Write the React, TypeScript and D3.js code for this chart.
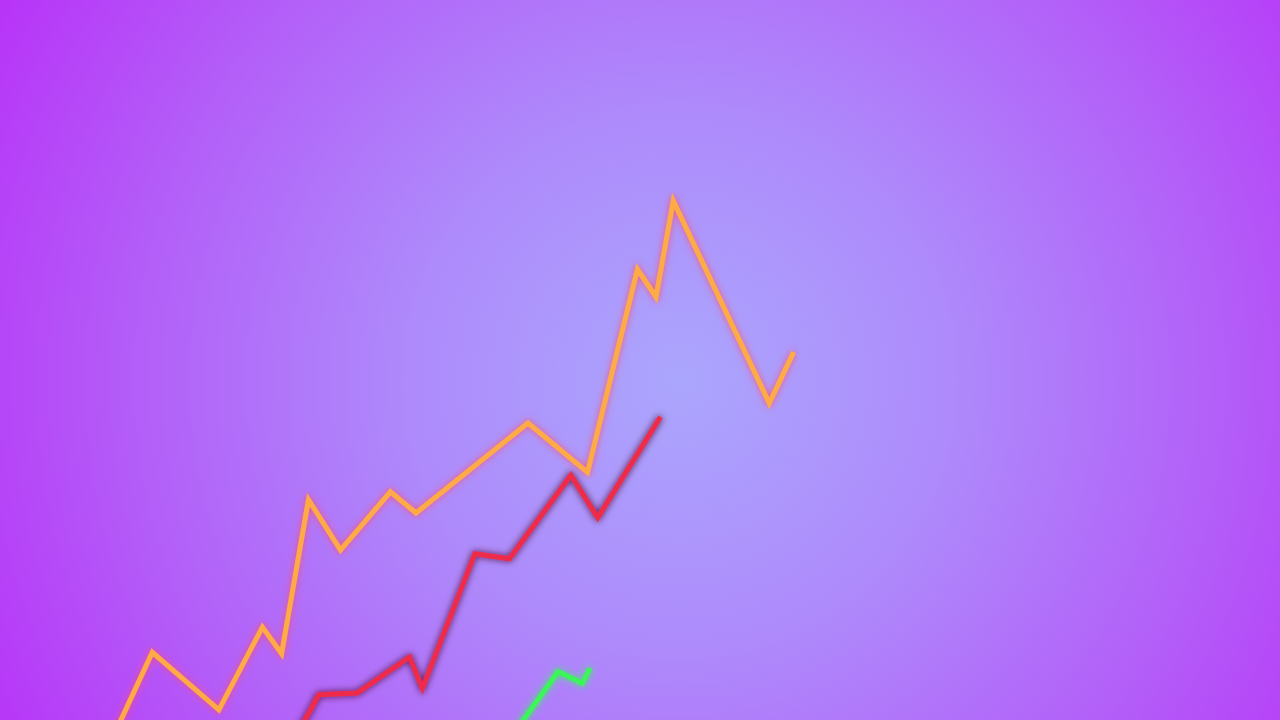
import React from "react";
import * as d3 from "d3";

const WIDTH = 1280;
const HEIGHT = 720;

// Series values (x: time position 0-100, y: value 0-100)
const orangeX = [8.05, 9.45, 11.9, 17.1, 20.5, 22.0, 24.1, 26.6, 30.5, 32.5, 41.25, 45.9, 49.8, 51.25, 52.6, 60.1, 62.0];
const orangeY = [-5.6, 0, 9.4, 1.4, 12.9, 9.2, 30.6, 23.6, 31.7, 28.75, 41.25, 34.4, 62.6, 58.75, 72.1, 44.0, 51.1];

const redX = [22.1, 24.9, 27.9, 32.0, 33.0, 37.1, 39.8, 44.6, 46.7, 51.6];
const redY = [-5.6, 3.5, 3.75, 8.75, 4.4, 23.1, 22.4, 34.0, 28.1, 42.1];

const greenX = [38.6, 43.6, 45.5, 46.1];
const greenY = [-5.6, 6.7, 5.1, 7.2];

const seriesNames = ["orange", "red", "green"];
const seriesColors = ["#ffab45", "#f02a48", "#3cf55a"];
const glowColors = ["#ff4d6a", "#4a0a2a", "#2cff50"];

export default function App() {
  const x = d3.scaleLinear().domain([0, 100]).range([0, WIDTH]);
  const y = d3.scaleLinear().domain([0, 100]).range([HEIGHT, 0]);
  const line = d3
    .line<[number, number]>()
    .x((d) => x(d[0]))
    .y((d) => y(d[1]))
    .curve(d3.curveLinear);

  const series = [
    orangeX.map((v, i) => [v, orangeY[i]] as [number, number]),
    redX.map((v, i) => [v, redY[i]] as [number, number]),
    greenX.map((v, i) => [v, greenY[i]] as [number, number]),
  ];

  return (
    <svg
      width={WIDTH}
      height={HEIGHT}
      style={{ position: "fixed", left: 0, top: 0, display: "block" }}
    >
      <defs>
        <radialGradient id="bg" gradientUnits="userSpaceOnUse" cx={680} cy={380} r={780}>
          <stop offset="0%" stopColor="#aba6fd" />
          <stop offset="35%" stopColor="#ae8afb" />
          <stop offset="70%" stopColor="#b35ef8" />
          <stop offset="100%" stopColor="#b833f8" />
        </radialGradient>
        {seriesNames.map((n, i) => (
          <filter key={n} id={`glow-${n}`} x="-20%" y="-20%" width="140%" height="140%">
            <feGaussianBlur in="SourceAlpha" stdDeviation={3.5} result="blur" />
            <feFlood floodColor={glowColors[i]} floodOpacity={0.9} />
            <feComposite in2="blur" operator="in" result="glow" />
            <feMerge>
              <feMergeNode in="glow" />
              <feMergeNode in="SourceGraphic" />
            </feMerge>
          </filter>
        ))}
      </defs>
      <rect x={0} y={0} width={WIDTH} height={HEIGHT} fill="url(#bg)" />
      {series.map((s, i) => (
        <path
          key={seriesNames[i]}
          d={line(s) || ""}
          fill="none"
          stroke={seriesColors[i]}
          strokeWidth={5}
          strokeLinejoin="miter"
          filter={`url(#glow-${seriesNames[i]})`}
        />
      ))}
    </svg>
  );
}
